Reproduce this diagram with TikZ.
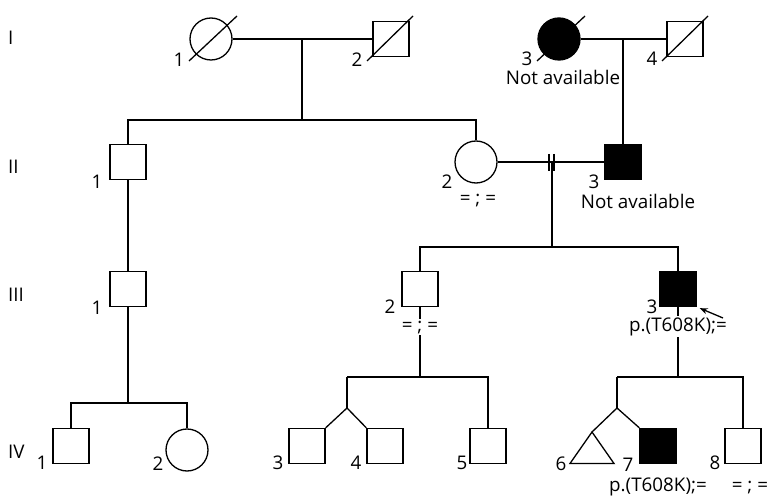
\documentclass[tikz,border=0pt]{standalone}
\usepackage{fontspec}
\setmainfont{Open Sans}
\usetikzlibrary{calc,arrows.meta}
\begin{document}
\begin{tikzpicture}[x=1pt,y=-1pt,
  lw/.style={line width=1.3pt},
  male/.style={draw, lw, rectangle, minimum width=36pt, minimum height=35pt, inner sep=0pt},
  female/.style={draw, lw, circle, minimum size=42pt, inner sep=0pt},
  aff/.style={fill=black},
  lab/.style={font=\fontsize{18.8}{21}\selectfont, inner sep=0pt},
  geno/.style={lab, fill=white, inner sep=1.5pt},
  rel/.style={lw},
]
\useasboundingbox[fill=white] (0,0) rectangle (769,497);

% Generation I
\node[female] (i1) at (211,39) {};
\node[male] (i2) at (391,39) {};
\node[female,aff] (i3) at (559,39) {};
\node[male] (i4) at (685,39) {};
\draw[rel] ($(i1.center)+(-22,22)$) -- ($(i1.center)+(26,-23)$);
\draw[rel] ($(i2.center)+(-24,22)$) -- ($(i2.center)+(22,-23)$);
\draw[rel] ($(i3.center)+(-22,22)$) -- ($(i3.center)+(26,-23)$);
\draw[rel] ($(i4.center)+(-23,22)$) -- ($(i4.center)+(23,-23)$);

% Generation II
\node[male] (ii1) at (128,162) {};
\node[female] (ii2) at (476,162) {};
\node[male,aff] (ii3) at (623,162) {};

% Generation III
\node[male] (iii1) at (128,289) {};
\node[male] (iii2) at (420,289) {};
\node[male,aff] (iii3) at (678,289) {};

% Generation IV
\node[male] (iv1) at (71,446) {};
\node[female] (iv2) at (187,450) {};
\node[male] (iv3) at (307,446) {};
\node[male] (iv4) at (385,446) {};
\node[male] (iv5) at (488,446) {};
\coordinate (iv6) at (592,432);
\draw[lw] (iv6) -- (614,463.5) -- (570,463.5) -- cycle;
\node[male,aff] (iv7) at (658,446) {};
\node[male] (iv8) at (743,446) {};

% Relationship lines
\coordinate (m1) at (302,39);
\coordinate (s1) at (302,120);
\draw[rel] (i1.east) -- (i2.west);
\draw[rel] (m1) -- (s1);
\draw[rel] (ii1.north) -- (ii1.north |- s1) -- (ii2.north |- s1) -- (ii2.north);

\coordinate (m2) at (623,39);
\draw[rel] (i3.east) -- (i4.west);
\draw[rel] (m2) -- (ii3.north);

\coordinate (m3) at (552,162);
\coordinate (s2) at (552,247);
\draw[rel] (ii2.east) -- (ii3.west);
\draw[rel] (m3) -- (s2);
\draw[rel] ($(m3)+(-3,-8)$) -- ($(m3)+(-3,9)$);
\draw[rel] ($(m3)+(2,-8)$) -- ($(m3)+(2,9)$);
\draw[rel] (iii2.north) -- (iii2.north |- s2) -- (iii3.north |- s2) -- (iii3.north);

\draw[rel] (ii1.south) -- (iii1.north);

\coordinate (s3) at (128,403);
\draw[rel] (iii1.south) -- (s3);
\draw[rel] (iv1.north) -- (iv1.north |- s3) -- (iv2.north |- s3) -- (iv2.north);

\coordinate (s4) at (420,377);
\coordinate (t1) at (347,408);
\draw[rel] (iii2.south) -- (s4);
\draw[rel] (t1 |- s4) -- (iv5.north |- s4) -- (iv5.north);
\draw[rel] (t1 |- s4) -- (t1);
\draw[rel] (iv3.north east) -- (t1) -- (iv4.north west);

\coordinate (s5) at (678,377);
\coordinate (t2) at (617,408);
\draw[rel] (iii3.south) -- (s5);
\draw[rel] (t2 |- s5) -- (iv8.north |- s5) -- (iv8.north);
\draw[rel] (t2 |- s5) -- (t2);
\draw[rel] (iv6) -- (t2) -- (iv7.north west);

% Generation labels
\node[lab, anchor=west] (gI) at (8,38) {I};
\node[lab, anchor=west] (gII) at (8,167) {II};
\node[lab, anchor=west] (gIII) at (8,295) {III};
\node[lab, anchor=west] (gIV) at (8,452) {IV};

% Individual labels
\node[lab] (l11) at (179,60) {1};
\node[lab] (l12) at (357,60) {2};
\node[lab] (l13) at (527,59) {3};
\node[lab] (l14) at (652,59) {4};
\node[lab] (na1) at (563,77) {Not available};

\node[lab] (l21) at (97,182) {1};
\node[lab] (l22) at (447,182) {2};
\node[lab, anchor=base] (g22) at (478,205) {= ; =};
\node[lab] (l23) at (594,182) {3};
\node[lab] (na2) at (638,201) {Not available};

\node[lab] (l31) at (97,308) {1};
\node[lab] (l32) at (390,307) {2};
\node[geno, anchor=base] (g32) at (420,331) {= ; =};
\node[lab] (l33) at (652,307) {3};
\node[geno, anchor=base] (g33) at (678,331) {p.(T608K);=};

\node[lab] (l41) at (42,463) {1};
\node[lab] (l42) at (158,464) {2};
\node[lab] (l43) at (278,463) {3};
\node[lab] (l44) at (356,463) {4};
\node[lab] (l45) at (462,463) {5};
\node[lab] (l46) at (561,464) {6};
\node[lab] (l47) at (628,465) {7};
\node[lab] (l48) at (715,463) {8};
\node[lab, anchor=base] (g47) at (658,491) {p.(T608K);=};
\node[lab, anchor=base] (g48) at (750,491) {= ; =};

% Proband arrow
\coordinate (pa) at (723,318);
\draw[lw, -{Stealth[length=8pt,width=6pt]}] (pa) -- ($(iii3.south east)+(3,1)$);
\end{tikzpicture}
\end{document}
